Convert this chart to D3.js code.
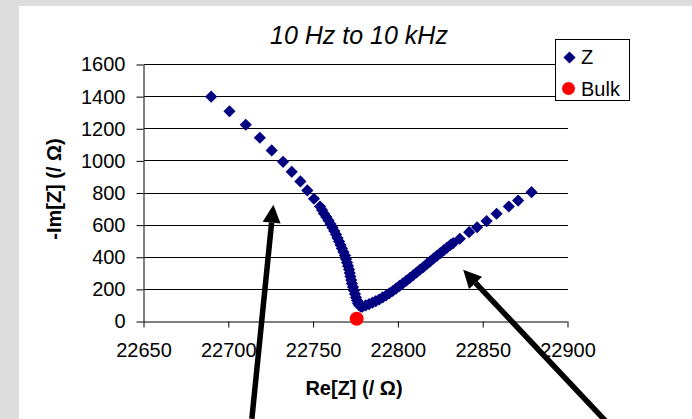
<!DOCTYPE html>
<head>
    <meta http-equiv="Content-Type" content="text/html; charset=UTF-8">
    <title>Nyquist plot 10 Hz to 10 kHz</title>
    <style type="text/css">
        html, body {
            margin: 0;
            padding: 0;
            background: #dddddd;
        }

        svg {
            display: block;
            font-family: "Liberation Sans", Arial, sans-serif;
        }
    </style>
</head>
<body>
    <svg id="chart" width="692" height="419"></svg>
    <script src="https://cdn.jsdelivr.net/npm/d3@7"></script>
    <script>
        // Re[Z] values of the measured series
        var zRe = [
            22689.9, 22700.7, 22710.3, 22718.6, 22725.6, 22732.3, 22737.4, 22742.5, 22746.6, 22750.5,
            22754.1, 22755.3, 22756.4, 22757.8, 22759.1, 22760.3, 22761.4, 22762.5, 22763.5, 22764.4,
            22765.3, 22766.2, 22767.0, 22767.9, 22768.8, 22769.4, 22770.0, 22770.6, 22771.2, 22771.6,
            22772.0, 22772.5, 22772.9, 22773.5, 22774.1, 22774.7, 22775.3, 22775.9, 22776.5, 22777.3,
            22778.2, 22779, 22781, 22783, 22785, 22787, 22789, 22791, 22793, 22795,
            22797, 22799, 22801, 22803, 22805, 22807, 22809, 22811, 22813, 22815,
            22817, 22819, 22821, 22823, 22825, 22827, 22829, 22831, 22832.6, 22836.5,
            22842.0, 22846.7, 22852.3, 22858.2, 22865.4, 22870.9, 22878.8
        ];
        // -Im[Z] values of the measured series
        var zIm = [
            1400, 1309, 1225, 1144, 1065, 994, 932, 872, 816, 764,
            716, 694, 672, 651, 629, 607, 585, 564, 542, 520,
            498, 476, 455, 433, 411, 389, 367, 346, 324, 302,
            280, 258, 237, 215, 193, 171, 149, 131, 112, 100,
            93, 92, 100, 108, 117, 127, 137, 150, 162, 176,
            190, 206, 222, 238, 254, 271, 288, 305, 322, 339,
            357, 374, 392, 409, 426, 443, 460, 477, 488, 515,
            556, 587, 625, 671, 716, 753, 805
        ];
        var bulkRe = [22775.7];
        var bulkIm = [17];

        var xTicks = [22650, 22700, 22750, 22800, 22850, 22900];
        var yTicks = [0, 200, 400, 600, 800, 1000, 1200, 1400, 1600];
        var legendLabels = ["Z", "Bulk"];

        // annotation arrows, tail -> tip, in data units
        var arrowTail = [[22713.9, -606], [22922.5, -620]];
        var arrowTip = [[22726.6, 727], [22838.5, 322]];

        var svg = d3.select("#chart");

        // white chart panel
        svg.append("rect")
            .attr("x", 19).attr("y", 6)
            .attr("width", 673).attr("height", 413)
            .attr("fill", "#ffffff");

        var x = d3.scaleLinear().domain([22650, 22900]).range([143.5, 567.5]);
        var y = d3.scaleLinear().domain([0, 1600]).range([321.5, 64.5]);

        // gridlines
        svg.append("g").selectAll("line.grid")
            .data(yTicks.slice(1))
            .enter()
            .append("line")
            .attr("class", "grid")
            .attr("x1", x(22650)).attr("x2", x(22900))
            .attr("y1", function (d) { return y(d) }).attr("y2", function (d) { return y(d) })
            .attr("stroke", "#000")
            .attr("stroke-width", 1)
            .attr("shape-rendering", "crispEdges");

        var yAxis = svg.append("g")
            .attr("transform", "translate(" + x(22650) + ",0)")
            .call(d3.axisLeft(y).tickValues(yTicks).tickSize(7).tickPadding(11).tickFormat(d3.format("d")));
        var xAxis = svg.append("g")
            .attr("transform", "translate(0," + y(0) + ")")
            .call(d3.axisBottom(x).tickValues(xTicks).tickSize(6).tickPadding(15).tickFormat(d3.format("d")));

        [yAxis, xAxis].forEach(function (g) {
            g.select(".domain").attr("stroke", "#000");
            g.selectAll(".tick line").attr("stroke", "#000");
            g.selectAll(".tick text")
                .attr("fill", "#000")
                .style("font-family", "'Liberation Sans', Arial, sans-serif")
                .style("font-size", "20px");
        });
        yAxis.select(".domain").attr("d", "M0.5," + y(0) + "V" + y(1600));
        xAxis.select(".domain").attr("d", "M" + x(22650) + ",0.5H" + x(22900));

        // title and axis titles
        svg.append("text")
            .attr("x", 359).attr("y", 44)
            .attr("text-anchor", "middle")
            .style("font-size", "25px").style("font-style", "italic")
            .text("10 Hz to 10 kHz");
        svg.append("text")
            .attr("x", 354).attr("y", 395)
            .attr("text-anchor", "middle")
            .style("font-size", "20px").style("font-weight", "bold")
            .text("Re[Z] (/ Ω)");
        svg.append("text")
            .attr("transform", "translate(61,189) rotate(-90)")
            .attr("text-anchor", "middle")
            .style("font-size", "20px").style("font-weight", "bold")
            .text("-Im[Z] (/ Ω)");

        // series Z
        var diamond = d3.symbol().type(d3.symbolSquare).size(74);
        svg.append("g").selectAll("path.z")
            .data(d3.range(zRe.length))
            .enter()
            .append("path")
            .attr("class", "z")
            .attr("d", diamond)
            .attr("transform", function (i) {
                return "translate(" + x(zRe[i]) + "," + y(zIm[i]) + ") rotate(45)";
            })
            .attr("fill", "#000080");

        // bulk point
        svg.append("g").selectAll("circle.bulk")
            .data(d3.range(bulkRe.length))
            .enter()
            .append("circle")
            .attr("class", "bulk")
            .attr("cx", function (i) { return x(bulkRe[i]) })
            .attr("cy", function (i) { return y(bulkIm[i]) })
            .attr("r", 7)
            .attr("fill", "#ff0000");

        // legend
        var legend = svg.append("g").attr("transform", "translate(555.5,39.5)");
        legend.append("rect")
            .attr("width", 74).attr("height", 61)
            .attr("fill", "#fff").attr("stroke", "#000").attr("stroke-width", 1);
        legend.append("path")
            .attr("d", diamond)
            .attr("transform", "translate(14,18) rotate(45)")
            .attr("fill", "#000080");
        legend.append("circle")
            .attr("cx", 13).attr("cy", 49).attr("r", 6.5)
            .attr("fill", "#ff0000");
        legend.selectAll("text")
            .data(legendLabels)
            .enter()
            .append("text")
            .attr("x", 25.5)
            .attr("y", function (d, i) { return 24.5 + i * 32 })
            .style("font-size", "20px")
            .text(function (d) { return d });

        // arrows
        var arrows = svg.append("g");
        arrowTail.forEach(function (t, i) {
            var x0 = x(t[0]), y0 = y(t[1]);
            var x1 = x(arrowTip[i][0]), y1 = y(arrowTip[i][1]);
            var ang = Math.atan2(y1 - y0, x1 - x0);
            var len = 18, half = 9;
            var bx = x1 - len * Math.cos(ang), by = y1 - len * Math.sin(ang);
            arrows.append("line")
                .attr("x1", x0).attr("y1", y0)
                .attr("x2", bx).attr("y2", by)
                .attr("stroke", "#000").attr("stroke-width", 5.5);
            arrows.append("path")
                .attr("d", "M" + x1 + "," + y1 +
                    "L" + (bx + half * Math.sin(ang)) + "," + (by - half * Math.cos(ang)) +
                    "L" + (bx - half * Math.sin(ang)) + "," + (by + half * Math.cos(ang)) + "Z")
                .attr("fill", "#000");
        });
    </script>
</body>
</html>
